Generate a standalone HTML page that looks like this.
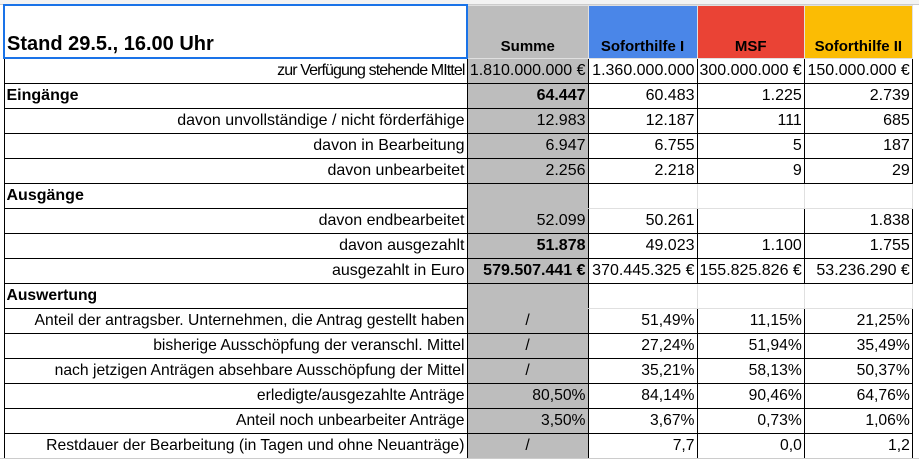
<!DOCTYPE html>
<html><head><meta charset="utf-8">
<style>
html,body{margin:0;padding:0;background:#fff;width:919px;height:463px;overflow:hidden;font-family:"Liberation Sans",Arial,sans-serif;-webkit-text-size-adjust:none;text-size-adjust:none;}
table{position:absolute;left:3px;top:4px;border-collapse:collapse;table-layout:fixed;}
tr{height:25px;}
td{padding:0 2px;height:25px;line-height:20px;font-size:15.7px;text-align:right;white-space:nowrap;overflow:hidden;border:1px solid #000;color:#000;box-sizing:border-box;}
.c td{font-size:16px;}
.g{background:#bdbdbd;}
.s td{border:1px solid #e0e0e0;}
.s td.a{border:1px solid #000;text-align:left;font-weight:bold;}
.s td.g{border-left:1px solid #000;border-right:1px solid #000;border-top:1px solid #bdbdbd;border-bottom:1px solid #bdbdbd;}
tr.h{height:53px;}
.h td{height:53px;vertical-align:bottom;padding-bottom:1px;font-weight:bold;font-size:15px;text-align:center;border:1px solid #e0e0e0;}
.h td.a{text-align:left;font-size:20px;border:2px solid #1a73e8;padding-bottom:3px;}
b{font-weight:bold;}
.bg{position:absolute;left:0;top:0;width:919px;height:4px;background:#f3f3f3;border-bottom:1px solid #ccc;}
.bot{position:absolute;left:0;top:458px;width:919px;height:5px;border-top:1px solid #ccc;}
</style></head><body>
<div class="bg"></div>
<table>
<colgroup><col style="width:463px"><col style="width:121px"><col style="width:109px"><col style="width:107px"><col style="width:108px"></colgroup>
<tr class="h"><td class="a">Stand 29.5., 16.00 Uhr</td><td class="g">Summe</td><td style="background:#4a86e8">Soforthilfe I</td><td style="background:#ea4335">MSF</td><td style="background:#fbbc04">Soforthilfe II</td></tr>
<tr class="c"><td style="letter-spacing:-0.9px">zur Verfügung stehende MIttel</td><td class="g">1.810.000.000 €</td><td>1.360.000.000</td><td>300.000.000 €</td><td>150.000.000 €</td></tr>
<tr class="c"><td style="text-align:left;font-weight:bold">Eingänge</td><td class="g"><b>64.447</b></td><td>60.483</td><td>1.225</td><td>2.739</td></tr>
<tr class="c"><td>davon unvollständige / nicht förderfähige</td><td class="g">12.983</td><td>12.187</td><td>111</td><td>685</td></tr>
<tr class="c"><td>davon in Bearbeitung</td><td class="g">6.947</td><td>6.755</td><td>5</td><td>187</td></tr>
<tr class="c"><td>davon unbearbeitet</td><td class="g">2.256</td><td>2.218</td><td>9</td><td>29</td></tr>
<tr class="s c"><td class="a">Ausgänge</td><td class="g"></td><td></td><td></td><td></td></tr>
<tr class="c"><td>davon endbearbeitet</td><td class="g">52.099</td><td>50.261</td><td></td><td>1.838</td></tr>
<tr class="c"><td>davon ausgezahlt</td><td class="g"><b>51.878</b></td><td>49.023</td><td>1.100</td><td>1.755</td></tr>
<tr class="c"><td>ausgezahlt in Euro</td><td class="g"><b>579.507.441 €</b></td><td>370.445.325 €</td><td>155.825.826 €</td><td>53.236.290 €</td></tr>
<tr class="s"><td class="a">Auswertung</td><td class="g"></td><td></td><td></td><td></td></tr>
<tr><td>Anteil der antragsber. Unternehmen, die Antrag gestellt haben</td><td class="g" style="text-align:center">/</td><td>51,49%</td><td>11,15%</td><td>21,25%</td></tr>
<tr><td>bisherige Ausschöpfung der veranschl. Mittel</td><td class="g" style="text-align:center">/</td><td>27,24%</td><td>51,94%</td><td>35,49%</td></tr>
<tr><td>nach jetzigen Anträgen absehbare Ausschöpfung der Mittel</td><td class="g" style="text-align:center">/</td><td>35,21%</td><td>58,13%</td><td>50,37%</td></tr>
<tr><td>erledigte/ausgezahlte Anträge</td><td class="g">80,50%</td><td>84,14%</td><td>90,46%</td><td>64,76%</td></tr>
<tr><td>Anteil noch unbearbeiter Anträge</td><td class="g">3,50%</td><td>3,67%</td><td>0,73%</td><td>1,06%</td></tr>
<tr><td>Restdauer der Bearbeitung (in Tagen und ohne Neuanträge)</td><td class="g" style="text-align:center">/</td><td>7,7</td><td>0,0</td><td>1,2</td></tr>
</table>
<div class="bot"></div>
</body></html>
